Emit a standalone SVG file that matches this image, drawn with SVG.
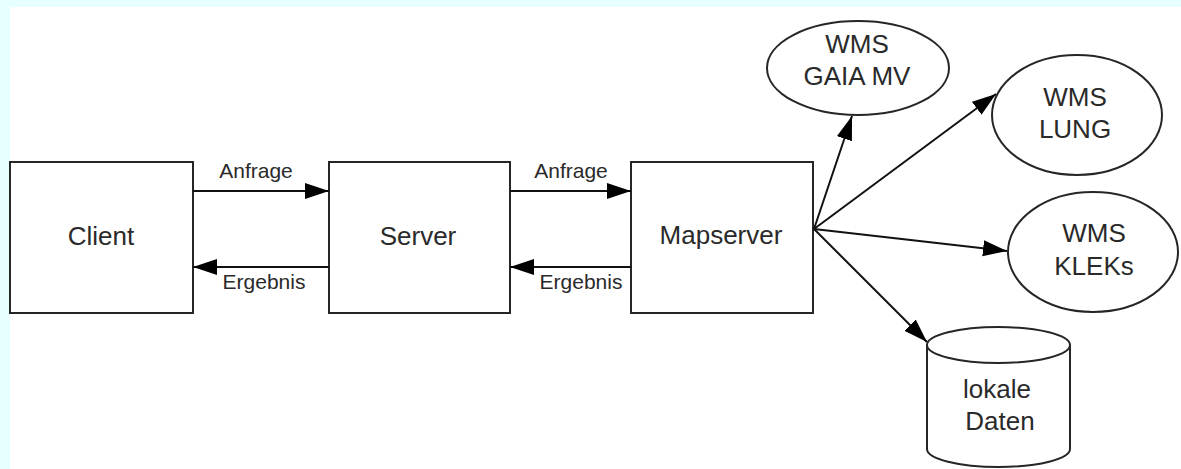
<svg xmlns="http://www.w3.org/2000/svg" width="1181" height="469" viewBox="0 0 1181 469">
<style>
.shape{fill:#ffffff;stroke:#262626;stroke-width:2}
.big{font-family:"Liberation Sans",Arial,sans-serif;font-size:26px;fill:#2a2a2a;text-anchor:middle}
.lbl{font-family:"Liberation Sans",Arial,sans-serif;font-size:21px;fill:#2a2a2a;text-anchor:middle}
.conn{stroke:#111;stroke-width:2;fill:none;marker-end:url(#ah)}
</style>
<defs>
<marker id="ah" markerUnits="userSpaceOnUse" markerWidth="26" markerHeight="18" refX="24" refY="8" orient="auto">
<path d="M0,0 L24,8 L0,16 Z" fill="#000"/>
</marker>
</defs>
<rect x="0" y="0" width="1181" height="469" fill="#e6ffff"/>
<rect x="10" y="7" width="1171" height="462" fill="#ffffff"/>
<g id="client">
<rect class="shape" x="10" y="162" width="183" height="151"/>
<text class="big" x="101" y="245">Client</text>
</g>
<g id="server">
<rect class="shape" x="329" y="162" width="181" height="151"/>
<text class="big" x="418" y="245">Server</text>
</g>
<g id="mapserver">
<rect class="shape" x="631" y="162" width="182" height="151"/>
<text class="big" x="721" y="244">Mapserver</text>
</g>
<g id="wms-gaia">
<ellipse class="shape" cx="858" cy="68" rx="91" ry="47"/>
<text class="big" x="857" y="53">WMS</text>
<text class="big" x="857" y="85">GAIA MV</text>
</g>
<g id="wms-lung">
<ellipse class="shape" cx="1077" cy="115" rx="85" ry="60"/>
<text class="big" x="1075" y="106">WMS</text>
<text class="big" x="1075" y="138">LUNG</text>
</g>
<g id="wms-kleks">
<ellipse class="shape" cx="1093" cy="252" rx="85" ry="60"/>
<text class="big" x="1094" y="242">WMS</text>
<text class="big" x="1094" y="275">KLEKs</text>
</g>
<g id="lokale-daten">
<path class="shape" d="M927,345 L927,449 A71.5,18 0 0 0 1070,449 L1070,345"/>
<ellipse class="shape" cx="998.5" cy="345" rx="71.5" ry="18"/>
<text class="big" x="997" y="398">lokale</text>
<text class="big" x="1000" y="430">Daten</text>
</g>
<g id="connectors">
<line class="conn" x1="193" y1="191" x2="329" y2="191"/>
<line class="conn" x1="329" y1="267" x2="193" y2="267"/>
<line class="conn" x1="510" y1="191" x2="631" y2="191"/>
<line class="conn" x1="631" y1="267" x2="510" y2="267"/>
<line class="conn" x1="814" y1="229" x2="852" y2="116"/>
<line class="conn" x1="814" y1="229" x2="996" y2="94"/>
<line class="conn" x1="814" y1="229" x2="1007" y2="251"/>
<line class="conn" x1="814" y1="229" x2="927" y2="342"/>
<text class="lbl" x="256" y="178">Anfrage</text>
<text class="lbl" x="264" y="289">Ergebnis</text>
<text class="lbl" x="571" y="178">Anfrage</text>
<text class="lbl" x="581" y="289">Ergebnis</text>
</g>
</svg>
